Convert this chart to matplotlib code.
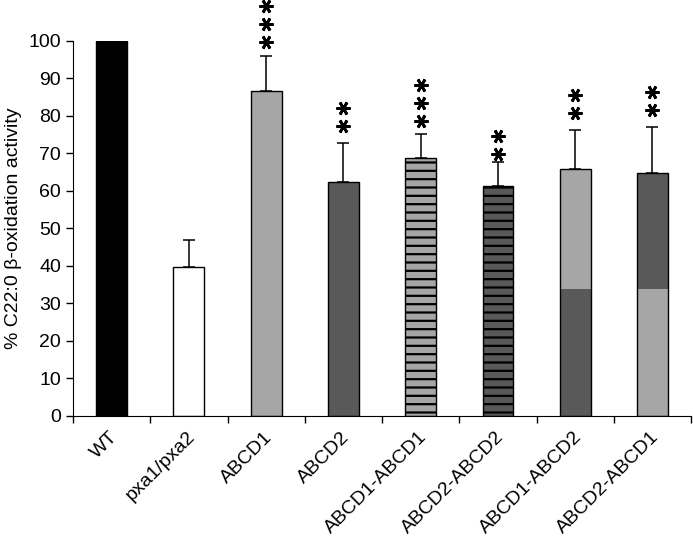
import matplotlib.pyplot as plt
import numpy as np

categories = ['WT', 'pxa1/pxa2', 'ABCD1', 'ABCD2', 'ABCD1-ABCD1',
              'ABCD2-ABCD2', 'ABCD1-ABCD2', 'ABCD2-ABCD1']
means = [100, 39.6, 86.7, 62.5, 68.7, 61.2, 65.9, 64.8]
errors = [0, 7.3, 9.4, 10.2, 6.4, 6.5, 10.3, 12.2]
# lower segment of the two mixed bars (0 = plain bar)
lower_part = [0, 0, 0, 0, 0, 0, 33.8, 33.8]
n_stars = [0, 0, 3, 2, 3, 2, 2, 2]
star_base = [0, 0, 99.7, 77.3, 78.7, 69.8, 80.7, 81.6]

black = '#000000'
white = '#ffffff'
light = '#a6a6a6'
dark = '#595959'
top_colors = [black, white, light, dark, light, dark, light, dark]
low_colors = [None] * 6 + [dark, light]
hatches = [None, None, None, None, '--', '--', None, None]

plt.rcParams['font.family'] = ['Liberation Sans', 'DejaVu Sans']
plt.rcParams['hatch.linewidth'] = 1.6

fig = plt.figure(figsize=(6.93, 5.38), dpi=100)
ax = fig.add_axes([0.1053, 0.2268, 0.892, 0.697])

x = np.arange(len(categories))
w = 0.4
for i in range(len(categories)):
    if lower_part[i] > 0:
        ax.bar(x[i], lower_part[i], w, color=low_colors[i], linewidth=0, zorder=2)
        ax.bar(x[i], means[i] - lower_part[i], w, bottom=lower_part[i],
               color=top_colors[i], linewidth=0, zorder=2)
        ax.bar(x[i], means[i], w, fill=False, edgecolor='black', linewidth=1.0, zorder=3)
    else:
        ax.bar(x[i], means[i], w, color=top_colors[i], edgecolor='black',
               linewidth=1.0, hatch=hatches[i], zorder=2)
    if errors[i] > 0:
        ax.errorbar(x[i], means[i], yerr=[[0], [errors[i]]], fmt='none',
                    ecolor='black', elinewidth=1.1, capsize=4.5, capthick=1.1, zorder=1)
    for k in range(n_stars[i]):
        ax.plot(x[i], star_base[i] + k * 4.8, marker=(6, 2, 90), color='black',
                markersize=10, markeredgewidth=2, clip_on=False, zorder=4)

ax.set_xlim(-0.5, len(categories) - 0.5)
ax.set_ylim(0, 100)
ax.set_yticks(np.arange(0, 101, 10))
ax.tick_params(axis='y', labelsize=14, length=5, width=1, direction='out')
ax.set_xticks(np.arange(-0.5, len(categories) - 0.4, 1))
ax.set_xticklabels([])
ax.tick_params(axis='x', length=5, width=1, direction='out')
for i, name in enumerate(categories):
    ax.text(x[i] - 0.03, -3.3, name, rotation=45, ha='right', va='top',
            rotation_mode='anchor', fontsize=14)
ax.spines['top'].set_visible(False)
ax.spines['right'].set_visible(False)
ax.set_ylabel('% C22:0 \u03b2-oxidation activity', fontsize=14, labelpad=5)

fig.savefig('out.png', dpi=100)
